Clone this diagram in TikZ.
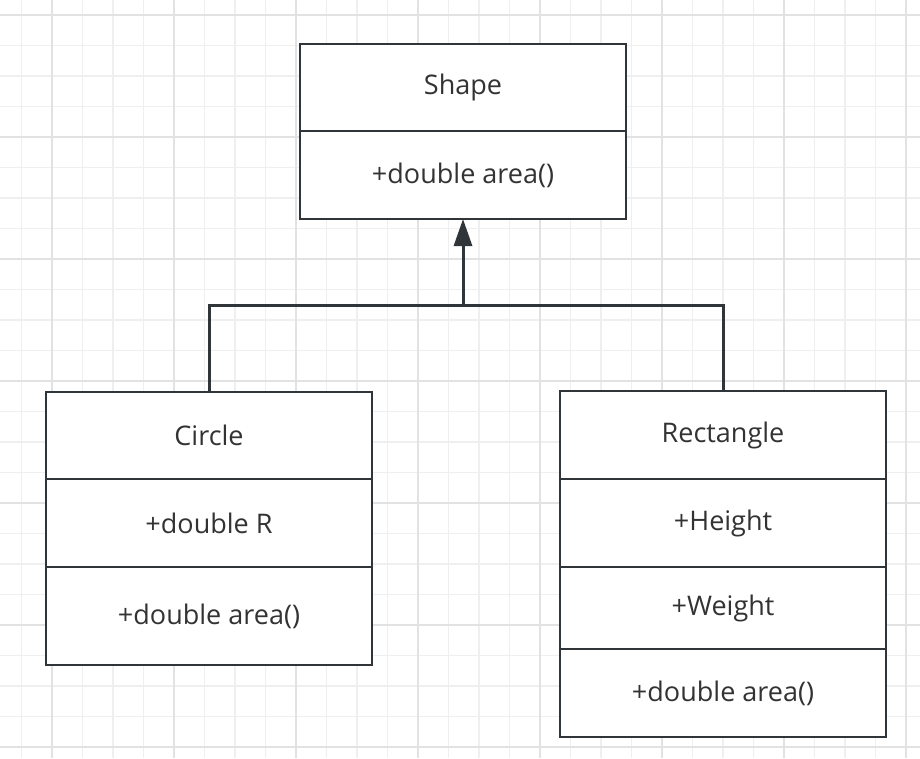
\documentclass[tikz,border=0pt]{standalone}
\usepackage{fontspec}
\setmainfont{Open Sans}
\usetikzlibrary{positioning, arrows.meta}

\definecolor{gridminor}{HTML}{EFEFEF}
\definecolor{gridmajor}{HTML}{E2E2E2}
\definecolor{umlline}{HTML}{30353A}
\definecolor{umltext}{HTML}{333333}

\newcommand*{\BoxWidth}{326pt}
\newcommand*{\PartHeight}{88pt}
\newcommand*{\PageW}{920}
\newcommand*{\PageH}{758}

\tikzset{
    umlpart/.style={rectangle, draw=umlline, line width=2.6pt, fill=white,
        minimum width=\BoxWidth, minimum height=\PartHeight,
        inner sep=0pt, outer sep=0pt, text=umltext,
        font=\fontsize{27}{31}\selectfont},
    link/.style={draw=umlline, line width=3pt},
    inherit/.style={link, -{Triangle[length=27pt, width=18pt]}},
}

\begin{document}
\begin{tikzpicture}[x=1pt, y=-1pt]
    \useasboundingbox (0,0) rectangle (\PageW,\PageH);
    \fill[white] (0,0) rectangle (\PageW,\PageH);

    % background grid
    \foreach \X in {21.5,52,...,\PageW} {
        \draw[gridminor, line width=1.5pt] (\X,0) -- (\X,\PageH);
    }
    \foreach \Y in {15,45.5,...,\PageH} {
        \draw[gridminor, line width=1.5pt] (0,\Y) -- (\PageW,\Y);
    }
    \foreach \X in {52,174,...,\PageW} {% major lines
        \draw[gridmajor, line width=1.8pt] (\X,0) -- (\X,\PageH);
    }
    \foreach \Y in {15,137,...,\PageH} {
        \draw[gridmajor, line width=1.8pt] (0,\Y) -- (\PageW,\Y);
    }

    % Shape
    \node[umlpart, anchor=north west, minimum height=87pt] (shapeName) at (300,44) {Shape};
    \node[umlpart, below=0pt of shapeName] (shapeOps) {+double area()};

    % Circle
    \node[umlpart, anchor=north west, minimum height=87pt] (circleName) at (46,392) {Circle};
    \node[umlpart, below=0pt of circleName] (circleAttr) {+double R};
    \node[umlpart, below=0pt of circleAttr, minimum height=98pt] (circleOps) {+double area()};

    % Rectangle
    \node[umlpart, anchor=north west] (rectName) at (560,391) {Rectangle};
    \node[umlpart, below=0pt of rectName] (rectHeight) {+Height};
    \node[umlpart, below=0pt of rectHeight, minimum height=82pt] (rectWeight) {+Weight};
    \node[umlpart, below=0pt of rectWeight] (rectOps) {+double area()};

    % inheritance
    \coordinate (bus) at (shapeOps.south |- 0,305);
    \draw[link] (circleName.north) |- (bus) -| (rectName.north);
    \draw[inherit] (bus) -- (shapeOps.south);
\end{tikzpicture}
\end{document}
